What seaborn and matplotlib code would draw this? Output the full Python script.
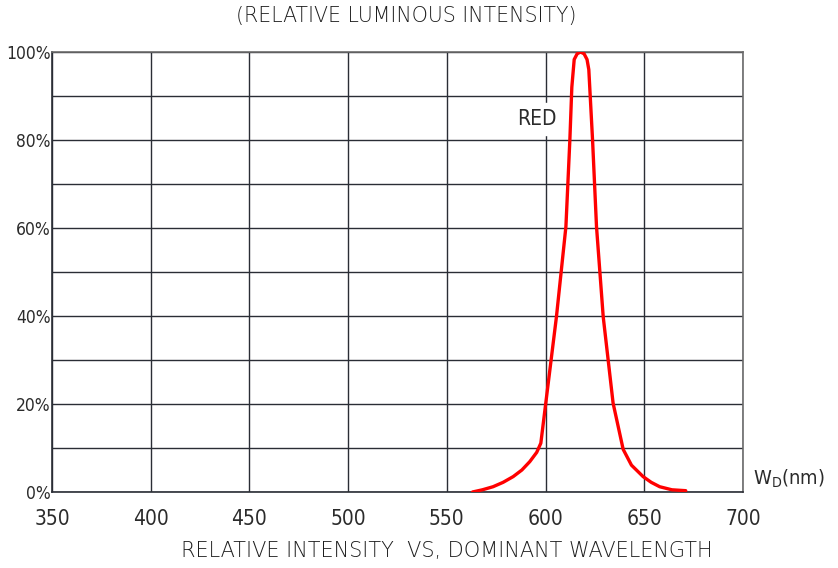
import seaborn as sns
import matplotlib.pyplot as plt
import pandas as pd

# spectrum
wavelength = [563, 568, 573.4, 578.5, 583.6, 588, 592, 595.5, 597.6, 600.1, 605.5, 610.3,
              612.3, 613.3, 614.5, 616, 617.7, 619.5, 621, 621.9, 623.8, 625.8, 629.2,
              634.2, 639.3, 643.5, 649.4, 653.5, 657.8, 664, 671]
intensity = [0, 0.5, 1.2, 2.2, 3.5, 5.0, 6.9, 9.0, 11.1, 20.2, 39.8, 60.3,
             80, 92, 98.3, 99.6, 100, 99.6, 98.3, 96, 80, 60.3, 39.8,
             20.2, 9.7, 6.1, 3.5, 2.2, 1.2, 0.5, 0.3]

x_ticks = [350, 400, 450, 500, 550, 600, 650, 700]
y_ticks = [0, 20, 40, 60, 80, 100]
y_labels = ["0%", "20%", "40%", "60%", "80%", "100%"]

df = pd.DataFrame({"wavelength": wavelength, "intensity": intensity})

sns.set_theme(style="white")
plt.rcParams['font.family'] = ['DejaVu Sans']
plt.rcParams['font.weight'] = 'light'
plt.rcParams['mathtext.default'] = 'regular'
txt = "#1e1e1e"

fig = plt.figure(figsize=(8.38, 5.68), dpi=100)
ax = fig.add_axes([52 / 838, 76 / 568, 691 / 838, 440 / 568])

sns.lineplot(data=df, x="wavelength", y="intensity", sort=False, color="#ff0000",
             linewidth=2.4, ax=ax, zorder=5)

ax.set_xlim(350, 700)
ax.set_ylim(0, 100)
ax.set_xticks(x_ticks)
ax.set_yticks(y_ticks)
ax.set_yticks(range(10, 100, 20), minor=True)
ax.set_xticklabels([str(t) for t in x_ticks], fontsize=15, color="#2b2b2b", fontstretch="condensed")
ax.set_yticklabels(y_labels, fontsize=12.5, color="#2b2b2b", fontstretch="condensed")
ax.tick_params(axis="both", which="both", length=0)
ax.tick_params(axis="x", pad=12)
ax.tick_params(axis="y", pad=1)
ax.grid(True, which="both", color="#2a2d35", linewidth=1.0)
ax.set_axisbelow(True)
for side in ax.spines.values():
    side.set_color("#6b6b6b")
    side.set_linewidth(1.2)
ax.spines["bottom"].set_color("#2a2d35")
ax.spines["left"].set_color("#2a2d35")

ax.set_xlabel("")
ax.set_ylabel("")
fig.text(447 / 838, 1 - 551 / 568, "RELATIVE INTENSITY  VS, DOMINANT WAVELENGTH",
         ha="center", va="center", fontsize=15, color=txt)
fig.text(406 / 838, 1 - 16 / 568, "(RELATIVE LUMINOUS INTENSITY)", ha="center", va="center",
         fontsize=14.8, color=txt)
ax.text(595.5, 84.8, "RED", ha="center", va="center", fontsize=15, color="#2b2b2b",
        fontstretch="condensed", backgroundcolor="white", zorder=4)
ax.text(1.014, 0.03, "W$_{D}$(nm)", transform=ax.transAxes, ha="left",
        va="center", fontsize=14.5, color="#2b2b2b", fontstretch="condensed")

fig.savefig("out.png", dpi=100)
